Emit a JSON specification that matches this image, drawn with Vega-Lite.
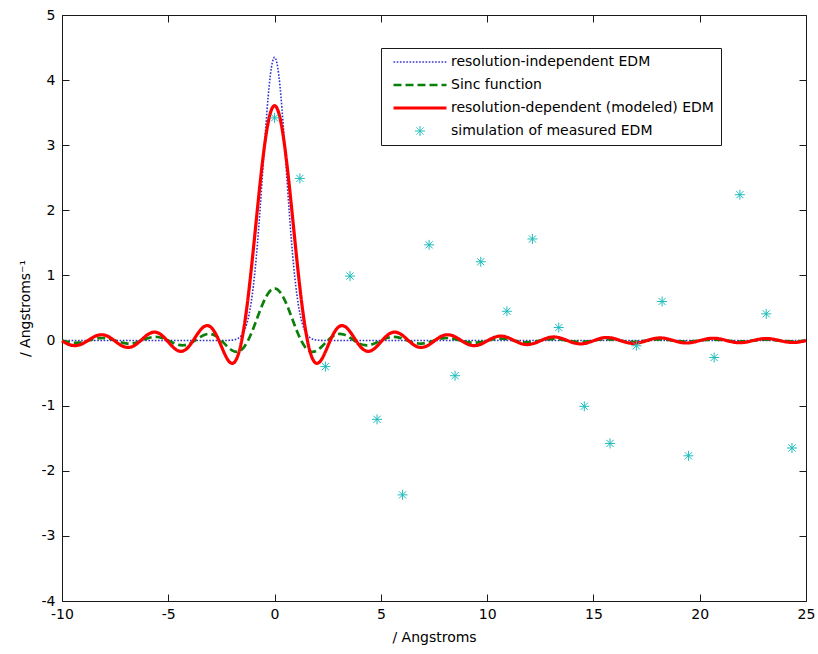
{
  "$schema": "https://vega.github.io/schema/vega-lite/v6.json",
  "width": 744,
  "height": 586,
  "autosize": "none",
  "padding": {"left": 62, "top": 15, "right": 12, "bottom": 53},
  "background": "white",
  "config": {
    "view": {"stroke": "#1a1a1a", "strokeWidth": 1},
    "font": "DejaVu Sans",
    "axis": {"grid": false, "domain": false, "tickColor": "#1a1a1a", "tickSize": -7, "labelFont": "DejaVu Sans", "labelFontSize": 14, "labelColor": "#000", "titleFont": "DejaVu Sans", "titleFontSize": 14, "titleFontWeight": "normal", "titleColor": "#000", "labelFlush": false, "labelExpr": "datum.value + ''"},
    "legend": {"fillColor": "white", "strokeColor": "#1a1a1a", "padding": 7, "labelFont": "DejaVu Sans", "labelFontSize": 14, "labelColor": "#000", "labelLimit": 400, "rowPadding": 9, "symbolOffset": 25, "labelOffset": 24, "symbolSize": 100, "cornerRadius": 0}
  },
  "resolve": {"axis": {"x": "independent", "y": "independent"}},
  "layer": [
    {
      "data": {"values": [
        {"x": -10, "y": 0, "s": "A"}, {"x": -2.5, "y": 0, "s": "A"}, {"x": -2, "y": 0.006, "s": "A"}, {"x": -1.9, "y": 0.011, "s": "A"}, {"x": -1.8, "y": 0.021, "s": "A"}, {"x": -1.7, "y": 0.037, "s": "A"}, {"x": -1.6, "y": 0.063, "s": "A"}, {"x": -1.5, "y": 0.106, "s": "A"}, {"x": -1.4, "y": 0.171, "s": "A"}, {"x": -1.3, "y": 0.266, "s": "A"}, {"x": -1.2, "y": 0.403, "s": "A"}, {"x": -1.1, "y": 0.589, "s": "A"}, {"x": -1, "y": 0.833, "s": "A"}, {"x": -0.9, "y": 1.14, "s": "A"}, {"x": -0.8, "y": 1.51, "s": "A"}, {"x": -0.7, "y": 1.935, "s": "A"}, {"x": -0.6, "y": 2.399, "s": "A"}, {"x": -0.5, "y": 2.878, "s": "A"}, {"x": -0.4, "y": 3.339, "s": "A"}, {"x": -0.3, "y": 3.749, "s": "A"}, {"x": -0.2, "y": 4.072, "s": "A"}, {"x": -0.1, "y": 4.279, "s": "A"}, {"x": 0, "y": 4.35, "s": "A"},
        {"x": 0.1, "y": 4.279, "s": "A"}, {"x": 0.2, "y": 4.072, "s": "A"}, {"x": 0.3, "y": 3.749, "s": "A"}, {"x": 0.4, "y": 3.339, "s": "A"}, {"x": 0.5, "y": 2.878, "s": "A"}, {"x": 0.6, "y": 2.399, "s": "A"}, {"x": 0.7, "y": 1.935, "s": "A"}, {"x": 0.8, "y": 1.51, "s": "A"}, {"x": 0.9, "y": 1.14, "s": "A"}, {"x": 1, "y": 0.833, "s": "A"}, {"x": 1.1, "y": 0.589, "s": "A"}, {"x": 1.2, "y": 0.403, "s": "A"}, {"x": 1.3, "y": 0.266, "s": "A"}, {"x": 1.4, "y": 0.171, "s": "A"}, {"x": 1.5, "y": 0.106, "s": "A"}, {"x": 1.6, "y": 0.063, "s": "A"}, {"x": 1.7, "y": 0.037, "s": "A"}, {"x": 1.8, "y": 0.021, "s": "A"}, {"x": 1.9, "y": 0.011, "s": "A"}, {"x": 2, "y": 0.006, "s": "A"}, {"x": 2.5, "y": 0, "s": "A"}, {"x": 25, "y": 0, "s": "A"}
      ]},
      "mark": {"type": "line", "interpolate": "monotone"},
      "encoding": {
        "x": {"field": "x", "type": "quantitative", "scale": {"domain": [-10, 25], "nice": false, "zero": false}, "axis": {"orient": "bottom", "values": [-10, -5, 0, 5, 10, 15, 20, 25], "title": "/ Angstroms", "titlePadding": 9, "labelPadding": 13}},
        "y": {"field": "y", "type": "quantitative", "scale": {"domain": [-4, 5], "nice": false, "zero": false}, "axis": {"orient": "left", "values": [-4, -3, -2, -1, 0, 1, 2, 3, 4, 5], "title": "/ Angstroms⁻¹", "titlePadding": 9, "labelPadding": 14}},
        "color": {"field": "s", "type": "nominal", "scale": {"domain": ["A", "B", "C", "D"], "range": ["#3030d0", "#0a800a", "#ff0000", "#1fbcbc"]}, "legend": {"title": null, "orient": "none", "legendX": 319, "legendY": 33, "direction": "vertical", "labelExpr": "{'A': 'resolution-independent EDM', 'B': 'Sinc function', 'C': 'resolution-dependent (modeled) EDM', 'D': 'simulation of measured EDM'}[datum.label]"}},
        "strokeDash": {"field": "s", "type": "nominal", "scale": {"domain": ["A", "B", "C", "D"], "range": [[1.6, 1.6], [8, 4], [1, 0], [1, 0]]}, "legend": {"title": null, "orient": "none", "legendX": 319, "legendY": 33, "direction": "vertical"}},
        "strokeWidth": {"field": "s", "type": "nominal", "scale": {"type": "ordinal", "domain": ["A", "B", "C", "D"], "range": [1.6, 2.7, 3.2, 1]}, "legend": {"title": null, "orient": "none", "legendX": 319, "legendY": 33, "direction": "vertical"}}
      }
    },
    {
      "data": {"values": [
        {"x": -10, "y": 0, "s": "B"}, {"x": -9.75, "y": -0.019, "s": "B"}, {"x": -9.5, "y": -0.032, "s": "B"}, {"x": -9.25, "y": -0.033, "s": "B"}, {"x": -9, "y": -0.021, "s": "B"}, {"x": -8.75, "y": 0, "s": "B"}, {"x": -8.5, "y": 0.022, "s": "B"}, {"x": -8.25, "y": 0.037, "s": "B"}, {"x": -8, "y": 0.038, "s": "B"}, {"x": -7.75, "y": 0.024, "s": "B"}, {"x": -7.5, "y": 0, "s": "B"}, {"x": -7.25, "y": -0.026, "s": "B"}, {"x": -7, "y": -0.043, "s": "B"}, {"x": -6.75, "y": -0.045, "s": "B"}, {"x": -6.5, "y": -0.029, "s": "B"}, {"x": -6.25, "y": 0, "s": "B"}, {"x": -6, "y": 0.031, "s": "B"}, {"x": -5.75, "y": 0.053, "s": "B"}, {"x": -5.5, "y": 0.055, "s": "B"}, {"x": -5.25, "y": 0.036, "s": "B"}, {"x": -5, "y": 0, "s": "B"}, {"x": -4.75, "y": -0.039, "s": "B"}, {"x": -4.5, "y": -0.067, "s": "B"}, {"x": -4.25, "y": -0.071, "s": "B"}, {"x": -4, "y": -0.047, "s": "B"}, {"x": -3.75, "y": 0, "s": "B"}, {"x": -3.5, "y": 0.054, "s": "B"}, {"x": -3.25, "y": 0.093, "s": "B"}, {"x": -3, "y": 0.101, "s": "B"}, {"x": -2.75, "y": 0.068, "s": "B"}, {"x": -2.5, "y": 0, "s": "B"}, {"x": -2.25, "y": -0.083, "s": "B"}, {"x": -2, "y": -0.151, "s": "B"}, {"x": -1.75, "y": -0.173, "s": "B"}, {"x": -1.5, "y": -0.125, "s": "B"}, {"x": -1.25, "y": 0, "s": "B"}, {"x": -1, "y": 0.187, "s": "B"}, {"x": -0.75, "y": 0.404, "s": "B"}, {"x": -0.5, "y": 0.606, "s": "B"}, {"x": -0.25, "y": 0.748, "s": "B"}, {"x": 0, "y": 0.8, "s": "B"},
        {"x": 0.25, "y": 0.748, "s": "B"}, {"x": 0.5, "y": 0.606, "s": "B"}, {"x": 0.75, "y": 0.404, "s": "B"}, {"x": 1, "y": 0.187, "s": "B"}, {"x": 1.25, "y": 0, "s": "B"}, {"x": 1.5, "y": -0.125, "s": "B"}, {"x": 1.75, "y": -0.173, "s": "B"}, {"x": 2, "y": -0.151, "s": "B"}, {"x": 2.25, "y": -0.083, "s": "B"}, {"x": 2.5, "y": 0, "s": "B"}, {"x": 2.75, "y": 0.068, "s": "B"}, {"x": 3, "y": 0.101, "s": "B"}, {"x": 3.25, "y": 0.093, "s": "B"}, {"x": 3.5, "y": 0.054, "s": "B"}, {"x": 3.75, "y": 0, "s": "B"}, {"x": 4, "y": -0.047, "s": "B"}, {"x": 4.25, "y": -0.071, "s": "B"}, {"x": 4.5, "y": -0.067, "s": "B"}, {"x": 4.75, "y": -0.039, "s": "B"}, {"x": 5, "y": 0, "s": "B"}, {"x": 5.25, "y": 0.036, "s": "B"}, {"x": 5.5, "y": 0.055, "s": "B"}, {"x": 5.75, "y": 0.053, "s": "B"}, {"x": 6, "y": 0.031, "s": "B"}, {"x": 6.25, "y": 0, "s": "B"}, {"x": 6.5, "y": -0.029, "s": "B"}, {"x": 6.75, "y": -0.045, "s": "B"}, {"x": 7, "y": -0.043, "s": "B"}, {"x": 7.25, "y": -0.026, "s": "B"}, {"x": 7.5, "y": 0, "s": "B"}, {"x": 7.75, "y": 0.024, "s": "B"}, {"x": 8, "y": 0.038, "s": "B"}, {"x": 8.25, "y": 0.037, "s": "B"}, {"x": 8.5, "y": 0.022, "s": "B"}, {"x": 8.75, "y": 0, "s": "B"}, {"x": 9, "y": -0.021, "s": "B"}, {"x": 9.25, "y": -0.033, "s": "B"}, {"x": 9.5, "y": -0.032, "s": "B"}, {"x": 9.75, "y": -0.019, "s": "B"}, {"x": 10, "y": 0, "s": "B"},
        {"x": 10.25, "y": 0.018, "s": "B"}, {"x": 10.5, "y": 0.029, "s": "B"}, {"x": 10.75, "y": 0.028, "s": "B"}, {"x": 11, "y": 0.017, "s": "B"}, {"x": 11.25, "y": 0, "s": "B"}, {"x": 11.5, "y": -0.016, "s": "B"}, {"x": 11.75, "y": -0.026, "s": "B"}, {"x": 12, "y": -0.025, "s": "B"}, {"x": 12.25, "y": -0.015, "s": "B"}, {"x": 12.5, "y": 0, "s": "B"}, {"x": 12.75, "y": 0.015, "s": "B"}, {"x": 13, "y": 0.023, "s": "B"}, {"x": 13.25, "y": 0.023, "s": "B"}, {"x": 13.5, "y": 0.014, "s": "B"}, {"x": 13.75, "y": 0, "s": "B"}, {"x": 14, "y": -0.013, "s": "B"}, {"x": 14.25, "y": -0.021, "s": "B"}, {"x": 14.5, "y": -0.021, "s": "B"}, {"x": 14.75, "y": -0.013, "s": "B"}, {"x": 15, "y": 0, "s": "B"}, {"x": 15.25, "y": 0.012, "s": "B"}, {"x": 15.5, "y": 0.02, "s": "B"}, {"x": 15.75, "y": 0.019, "s": "B"}, {"x": 16, "y": 0.012, "s": "B"}, {"x": 16.25, "y": 0, "s": "B"}, {"x": 16.5, "y": -0.011, "s": "B"}, {"x": 16.75, "y": -0.018, "s": "B"}, {"x": 17, "y": -0.018, "s": "B"}, {"x": 17.25, "y": -0.011, "s": "B"}, {"x": 17.5, "y": 0, "s": "B"}, {"x": 17.75, "y": 0.011, "s": "B"}, {"x": 18, "y": 0.017, "s": "B"}, {"x": 18.25, "y": 0.017, "s": "B"}, {"x": 18.5, "y": 0.01, "s": "B"}, {"x": 18.75, "y": 0, "s": "B"}, {"x": 19, "y": -0.01, "s": "B"}, {"x": 19.25, "y": -0.016, "s": "B"}, {"x": 19.5, "y": -0.016, "s": "B"}, {"x": 19.75, "y": -0.009, "s": "B"}, {"x": 20, "y": 0, "s": "B"},
        {"x": 20.25, "y": 0.009, "s": "B"}, {"x": 20.5, "y": 0.015, "s": "B"}, {"x": 20.75, "y": 0.015, "s": "B"}, {"x": 21, "y": 0.009, "s": "B"}, {"x": 21.25, "y": 0, "s": "B"}, {"x": 21.5, "y": -0.009, "s": "B"}, {"x": 21.75, "y": -0.014, "s": "B"}, {"x": 22, "y": -0.014, "s": "B"}, {"x": 22.25, "y": -0.008, "s": "B"}, {"x": 22.5, "y": 0, "s": "B"}, {"x": 22.75, "y": 0.008, "s": "B"}, {"x": 23, "y": 0.013, "s": "B"}, {"x": 23.25, "y": 0.013, "s": "B"}, {"x": 23.5, "y": 0.008, "s": "B"}, {"x": 23.75, "y": 0, "s": "B"}, {"x": 24, "y": -0.008, "s": "B"}, {"x": 24.25, "y": -0.012, "s": "B"}, {"x": 24.5, "y": -0.012, "s": "B"}, {"x": 24.75, "y": -0.008, "s": "B"}, {"x": 25, "y": 0, "s": "B"}
      ]},
      "mark": {"type": "line", "interpolate": "natural"},
      "encoding": {
        "x": {"field": "x", "type": "quantitative", "axis": null},
        "y": {"field": "y", "type": "quantitative", "axis": null},
        "color": {"field": "s", "type": "nominal", "scale": {"domain": ["A", "B", "C", "D"], "range": ["#3030d0", "#0a800a", "#ff0000", "#1fbcbc"]}, "legend": {"title": null, "orient": "none", "legendX": 319, "legendY": 33, "direction": "vertical", "labelExpr": "{'A': 'resolution-independent EDM', 'B': 'Sinc function', 'C': 'resolution-dependent (modeled) EDM', 'D': 'simulation of measured EDM'}[datum.label]"}},
        "strokeDash": {"field": "s", "type": "nominal", "scale": {"domain": ["A", "B", "C", "D"], "range": [[1.6, 1.6], [8, 4], [1, 0], [1, 0]]}, "legend": {"title": null, "orient": "none", "legendX": 319, "legendY": 33, "direction": "vertical"}},
        "strokeWidth": {"field": "s", "type": "nominal", "scale": {"type": "ordinal", "domain": ["A", "B", "C", "D"], "range": [1.6, 2.7, 3.2, 1]}, "legend": {"title": null, "orient": "none", "legendX": 319, "legendY": 33, "direction": "vertical"}}
      }
    },
    {
      "data": {"values": [
        {"x": -10, "y": -0.006, "s": "C"}, {"x": -9.75, "y": -0.049, "s": "C"}, {"x": -9.5, "y": -0.075, "s": "C"}, {"x": -9.25, "y": -0.073, "s": "C"}, {"x": -9, "y": -0.042, "s": "C"}, {"x": -8.75, "y": 0.007, "s": "C"}, {"x": -8.5, "y": 0.057, "s": "C"}, {"x": -8.25, "y": 0.086, "s": "C"}, {"x": -8, "y": 0.084, "s": "C"}, {"x": -7.75, "y": 0.048, "s": "C"}, {"x": -7.5, "y": -0.01, "s": "C"}, {"x": -7.25, "y": -0.068, "s": "C"}, {"x": -7, "y": -0.102, "s": "C"}, {"x": -6.75, "y": -0.099, "s": "C"}, {"x": -6.5, "y": -0.055, "s": "C"}, {"x": -6.25, "y": 0.014, "s": "C"}, {"x": -6, "y": 0.084, "s": "C"}, {"x": -5.75, "y": 0.125, "s": "C"}, {"x": -5.5, "y": 0.12, "s": "C"}, {"x": -5.25, "y": 0.065, "s": "C"}, {"x": -5, "y": -0.022, "s": "C"}, {"x": -4.75, "y": -0.109, "s": "C"}, {"x": -4.5, "y": -0.161, "s": "C"}, {"x": -4.25, "y": -0.152, "s": "C"}, {"x": -4, "y": -0.078, "s": "C"}, {"x": -3.75, "y": 0.04, "s": "C"}, {"x": -3.5, "y": 0.157, "s": "C"}, {"x": -3.25, "y": 0.225, "s": "C"}, {"x": -3, "y": 0.206, "s": "C"}, {"x": -2.75, "y": 0.091, "s": "C"}, {"x": -2.5, "y": -0.09, "s": "C"}, {"x": -2.25, "y": -0.268, "s": "C"}, {"x": -2, "y": -0.35, "s": "C"}, {"x": -1.75, "y": -0.252, "s": "C"}, {"x": -1.5, "y": 0.081, "s": "C"}, {"x": -1.25, "y": 0.65, "s": "C"}, {"x": -1, "y": 1.395, "s": "C"}, {"x": -0.75, "y": 2.201, "s": "C"}, {"x": -0.5, "y": 2.925, "s": "C"}, {"x": -0.25, "y": 3.428, "s": "C"}, {"x": 0, "y": 3.607, "s": "C"},
        {"x": 0.25, "y": 3.428, "s": "C"}, {"x": 0.5, "y": 2.925, "s": "C"}, {"x": 0.75, "y": 2.201, "s": "C"}, {"x": 1, "y": 1.395, "s": "C"}, {"x": 1.25, "y": 0.65, "s": "C"}, {"x": 1.5, "y": 0.081, "s": "C"}, {"x": 1.75, "y": -0.252, "s": "C"}, {"x": 2, "y": -0.35, "s": "C"}, {"x": 2.25, "y": -0.268, "s": "C"}, {"x": 2.5, "y": -0.09, "s": "C"}, {"x": 2.75, "y": 0.091, "s": "C"}, {"x": 3, "y": 0.206, "s": "C"}, {"x": 3.25, "y": 0.225, "s": "C"}, {"x": 3.5, "y": 0.157, "s": "C"}, {"x": 3.75, "y": 0.04, "s": "C"}, {"x": 4, "y": -0.078, "s": "C"}, {"x": 4.25, "y": -0.152, "s": "C"}, {"x": 4.5, "y": -0.161, "s": "C"}, {"x": 4.75, "y": -0.109, "s": "C"}, {"x": 5, "y": -0.022, "s": "C"}, {"x": 5.25, "y": 0.065, "s": "C"}, {"x": 5.5, "y": 0.12, "s": "C"}, {"x": 5.75, "y": 0.125, "s": "C"}, {"x": 6, "y": 0.084, "s": "C"}, {"x": 6.25, "y": 0.014, "s": "C"}, {"x": 6.5, "y": -0.055, "s": "C"}, {"x": 6.75, "y": -0.099, "s": "C"}, {"x": 7, "y": -0.102, "s": "C"}, {"x": 7.25, "y": -0.068, "s": "C"}, {"x": 7.5, "y": -0.01, "s": "C"}, {"x": 7.75, "y": 0.048, "s": "C"}, {"x": 8, "y": 0.084, "s": "C"}, {"x": 8.25, "y": 0.086, "s": "C"}, {"x": 8.5, "y": 0.057, "s": "C"}, {"x": 8.75, "y": 0.007, "s": "C"}, {"x": 9, "y": -0.042, "s": "C"}, {"x": 9.25, "y": -0.073, "s": "C"}, {"x": 9.5, "y": -0.075, "s": "C"}, {"x": 9.75, "y": -0.049, "s": "C"}, {"x": 10, "y": -0.006, "s": "C"},
        {"x": 10.25, "y": 0.038, "s": "C"}, {"x": 10.5, "y": 0.065, "s": "C"}, {"x": 10.75, "y": 0.066, "s": "C"}, {"x": 11, "y": 0.043, "s": "C"}, {"x": 11.25, "y": 0.004, "s": "C"}, {"x": 11.5, "y": -0.034, "s": "C"}, {"x": 11.75, "y": -0.058, "s": "C"}, {"x": 12, "y": -0.059, "s": "C"}, {"x": 12.25, "y": -0.038, "s": "C"}, {"x": 12.5, "y": -0.004, "s": "C"}, {"x": 12.75, "y": 0.031, "s": "C"}, {"x": 13, "y": 0.052, "s": "C"}, {"x": 13.25, "y": 0.053, "s": "C"}, {"x": 13.5, "y": 0.034, "s": "C"}, {"x": 13.75, "y": 0.003, "s": "C"}, {"x": 14, "y": -0.028, "s": "C"}, {"x": 14.25, "y": -0.048, "s": "C"}, {"x": 14.5, "y": -0.049, "s": "C"}, {"x": 14.75, "y": -0.031, "s": "C"}, {"x": 15, "y": -0.003, "s": "C"}, {"x": 15.25, "y": 0.026, "s": "C"}, {"x": 15.5, "y": 0.044, "s": "C"}, {"x": 15.75, "y": 0.045, "s": "C"}, {"x": 16, "y": 0.029, "s": "C"}, {"x": 16.25, "y": 0.002, "s": "C"}, {"x": 16.5, "y": -0.024, "s": "C"}, {"x": 16.75, "y": -0.041, "s": "C"}, {"x": 17, "y": -0.041, "s": "C"}, {"x": 17.25, "y": -0.026, "s": "C"}, {"x": 17.5, "y": -0.002, "s": "C"}, {"x": 17.75, "y": 0.023, "s": "C"}, {"x": 18, "y": 0.038, "s": "C"}, {"x": 18.25, "y": 0.039, "s": "C"}, {"x": 18.5, "y": 0.025, "s": "C"}, {"x": 18.75, "y": 0.002, "s": "C"}, {"x": 19, "y": -0.021, "s": "C"}, {"x": 19.25, "y": -0.036, "s": "C"}, {"x": 19.5, "y": -0.036, "s": "C"}, {"x": 19.75, "y": -0.023, "s": "C"}, {"x": 20, "y": -0.001, "s": "C"},
        {"x": 20.25, "y": 0.02, "s": "C"}, {"x": 20.5, "y": 0.034, "s": "C"}, {"x": 20.75, "y": 0.034, "s": "C"}, {"x": 21, "y": 0.022, "s": "C"}, {"x": 21.25, "y": 0.001, "s": "C"}, {"x": 21.5, "y": -0.019, "s": "C"}, {"x": 21.75, "y": -0.032, "s": "C"}, {"x": 22, "y": -0.032, "s": "C"}, {"x": 22.25, "y": -0.02, "s": "C"}, {"x": 22.5, "y": -0.001, "s": "C"}, {"x": 22.75, "y": 0.018, "s": "C"}, {"x": 23, "y": 0.03, "s": "C"}, {"x": 23.25, "y": 0.03, "s": "C"}, {"x": 23.5, "y": 0.019, "s": "C"}, {"x": 23.75, "y": 0.001, "s": "C"}, {"x": 24, "y": -0.017, "s": "C"}, {"x": 24.25, "y": -0.028, "s": "C"}, {"x": 24.5, "y": -0.029, "s": "C"}, {"x": 24.75, "y": -0.018, "s": "C"}, {"x": 25, "y": -0.001, "s": "C"}
      ]},
      "mark": {"type": "line", "interpolate": "natural", "strokeJoin": "round"},
      "encoding": {
        "x": {"field": "x", "type": "quantitative", "axis": null},
        "y": {"field": "y", "type": "quantitative", "axis": null},
        "color": {"field": "s", "type": "nominal", "scale": {"domain": ["A", "B", "C", "D"], "range": ["#3030d0", "#0a800a", "#ff0000", "#1fbcbc"]}, "legend": {"title": null, "orient": "none", "legendX": 319, "legendY": 33, "direction": "vertical", "labelExpr": "{'A': 'resolution-independent EDM', 'B': 'Sinc function', 'C': 'resolution-dependent (modeled) EDM', 'D': 'simulation of measured EDM'}[datum.label]"}},
        "strokeDash": {"field": "s", "type": "nominal", "scale": {"domain": ["A", "B", "C", "D"], "range": [[1.6, 1.6], [8, 4], [1, 0], [1, 0]]}, "legend": {"title": null, "orient": "none", "legendX": 319, "legendY": 33, "direction": "vertical"}},
        "strokeWidth": {"field": "s", "type": "nominal", "scale": {"type": "ordinal", "domain": ["A", "B", "C", "D"], "range": [1.6, 2.7, 3.2, 1]}, "legend": {"title": null, "orient": "none", "legendX": 319, "legendY": 33, "direction": "vertical"}}
      }
    },
    {
      "data": {"values": [
        {"x": 0, "y": 3.42, "s": "D"}, {"x": 1.19, "y": 2.49, "s": "D"}, {"x": 2.39, "y": -0.4, "s": "D"}, {"x": 3.55, "y": 0.99, "s": "D"}, {"x": 4.82, "y": -1.21, "s": "D"}, {"x": 6.02, "y": -2.37, "s": "D"}, {"x": 7.27, "y": 1.47, "s": "D"}, {"x": 8.49, "y": -0.54, "s": "D"}, {"x": 9.7, "y": 1.21, "s": "D"}, {"x": 10.93, "y": 0.45, "s": "D"}, {"x": 12.13, "y": 1.56, "s": "D"}, {"x": 13.37, "y": 0.2, "s": "D"}, {"x": 14.57, "y": -1.01, "s": "D"}, {"x": 15.78, "y": -1.58, "s": "D"}, {"x": 17.02, "y": -0.08, "s": "D"}, {"x": 18.23, "y": 0.6, "s": "D"}, {"x": 19.47, "y": -1.77, "s": "D"}, {"x": 20.68, "y": -0.26, "s": "D"}, {"x": 21.89, "y": 2.24, "s": "D"}, {"x": 23.13, "y": 0.41, "s": "D"}, {"x": 24.34, "y": -1.65, "s": "D"}
      ]},
      "mark": {"type": "point", "filled": false, "size": 100, "strokeWidth": 1, "opacity": 1},
      "encoding": {
        "x": {"field": "x", "type": "quantitative", "axis": {"orient": "top", "values": [-10, -5, 0, 5, 10, 15, 20, 25], "labels": false, "title": null}},
        "y": {"field": "y", "type": "quantitative", "axis": {"orient": "right", "values": [-4, -3, -2, -1, 0, 1, 2, 3, 4, 5], "labels": false, "title": null}},
        "color": {"field": "s", "type": "nominal", "scale": {"domain": ["A", "B", "C", "D"], "range": ["#3030d0", "#0a800a", "#ff0000", "#1fbcbc"]}, "legend": {"title": null, "orient": "none", "legendX": 319, "legendY": 33, "direction": "vertical", "labelExpr": "{'A': 'resolution-independent EDM', 'B': 'Sinc function', 'C': 'resolution-dependent (modeled) EDM', 'D': 'simulation of measured EDM'}[datum.label]"}},
        "shape": {"field": "s", "type": "nominal", "scale": {"domain": ["A", "B", "C", "D"], "range": ["M-5.3,0L5.3,0", "M-5.3,0L5.3,0", "M-5.3,0L5.3,0", "M-1,0L1,0M0,-1L0,1M-0.72,-0.72L0.72,0.72M-0.72,0.72L0.72,-0.72"]}, "legend": {"title": null, "orient": "none", "legendX": 319, "legendY": 33, "direction": "vertical"}}
      }
    }
  ]
}
